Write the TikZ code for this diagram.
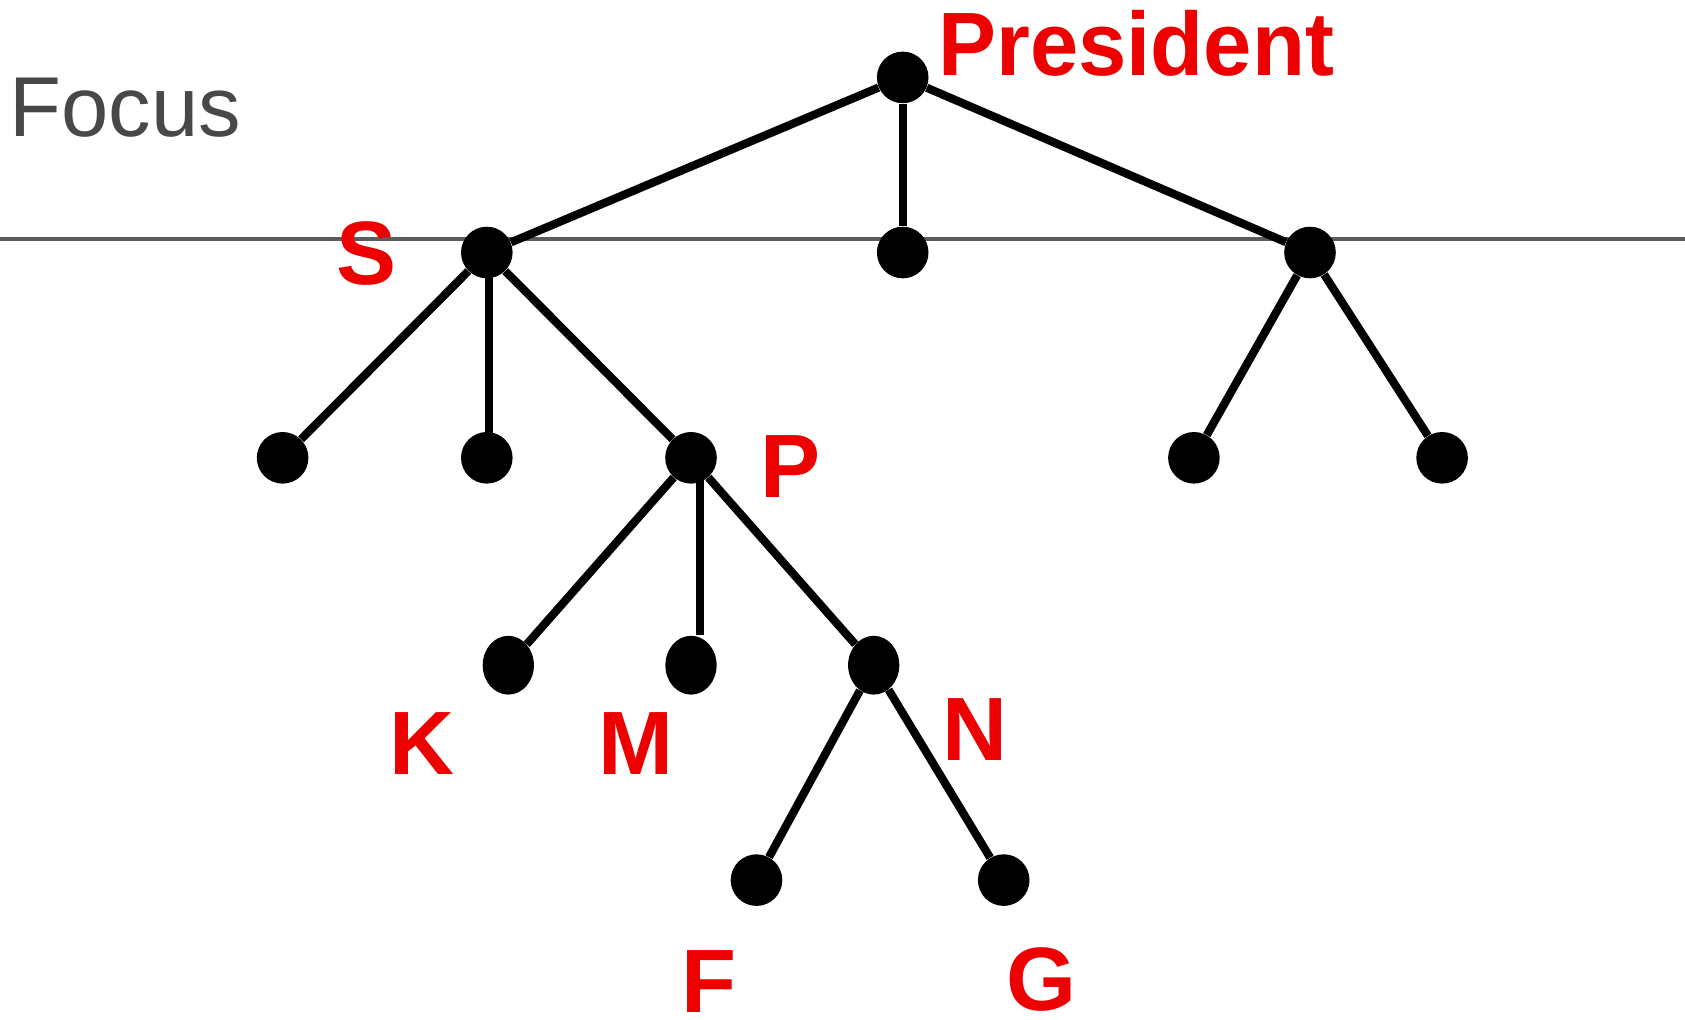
\documentclass[tikz,border=0pt]{standalone}
\usepackage{fontspec}
\setmainfont{Liberation Sans}
\usetikzlibrary{shapes.geometric,backgrounds}
\definecolor{labelred}{RGB}{236,0,0}
\definecolor{focusgray}{RGB}{72,72,72}
\definecolor{linegray}{RGB}{92,92,92}
\begin{document}
\begin{tikzpicture}[x=0.5pt,y=-0.5pt,
  dot/.style={circle,fill=black,inner sep=0pt,minimum size=25.8pt},
  edot/.style={ellipse,fill=black,inner sep=0pt,minimum width=25.6pt,minimum height=29.4pt},
  edge/.style={line width=4.1pt},
  focusline/.style={line width=2pt,draw=linegray},
  lbl/.style={text=labelred,font=\fontsize{45}{45}\selectfont\bfseries,inner sep=0pt,anchor=base}]
\useasboundingbox (0,0) rectangle (1685,1019);

% tree nodes
\node[dot] (root) at (902.7,77.4) {};
\node[dot] (s)    at (486.8,252.5) {};
\node[dot] (mid)  at (902.7,252.5) {};
\node[dot] (r)    at (1310,252.5) {};
\node[dot] (s1)   at (282.6,457.8) {};
\node[dot] (s2)   at (486.8,457.8) {};
\node[dot] (p)    at (691,457.8) {};
\node[dot] (r1)   at (1193.9,457.8) {};
\node[dot] (r2)   at (1442.1,457.8) {};
\node[edot] (k)   at (508.3,665.2) {};
\node[edot] (m)   at (691,665.2) {};
\node[edot] (n)   at (873.7,665.2) {};
\node[dot] (f)    at (756.5,880.1) {};
\node[dot] (g)    at (1003.7,880.1) {};

% focus level line and connectors, behind the dots
\coordinate (fl) at (0,238.6);
\coordinate (fr) at (1685,238.6);
\begin{scope}[on background layer]
  \draw[focusline] (fl) -- (fr);
  \draw[edge] (root) -- (s);
  \draw[edge] (root) -- (mid);
  \draw[edge] (root) -- (r);
  \draw[edge] (s) -- (s1);
  \draw[edge] ([xshift=1pt]s.center) -- ([xshift=1pt]s2.center);
  \draw[edge] (s) -- (p);
  \draw[edge] (r) -- (r1);
  \draw[edge] (r) -- (r2);
  \draw[edge] (p) -- (k);
  \draw[edge] ([xshift=4.3pt]p.center) -- ([xshift=4.3pt]m.north);
  \draw[edge] (p) -- (n);
  \draw[edge] (n) -- (f);
  \draw[edge] (n) -- (g);
\end{scope}

% labels
\node[anchor=base west,text=focusgray,font=\fontsize{42.5}{42.5}\selectfont,inner sep=0pt]
  (focus) at (9,136.5) {Focus};
\node[lbl,anchor=base west] (lpres) at (938,75.2) {\scalebox{0.965}[1]{President}};
\node[lbl] (ls) at (366.4,284.8) {S};
\node[lbl] (lp) at (790.9,497.5) {P};
\node[lbl] (lk) at (422.3,774.8) {K};
\node[lbl] (lm) at (636.2,774.8) {M};
\node[lbl] (ln) at (974.7,760.8) {N};
\node[lbl] (lf) at (709.2,1012) {F};
\node[lbl] (lg) at (1041.3,1010) {G};
\end{tikzpicture}
\end{document}
